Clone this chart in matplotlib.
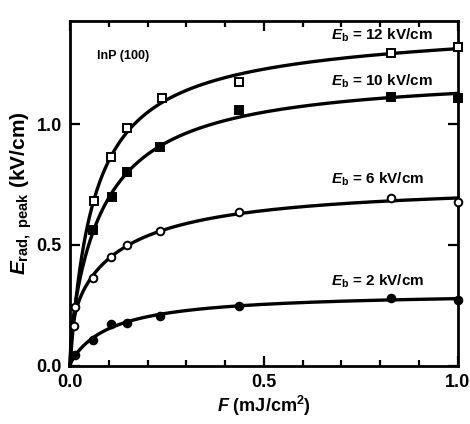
import numpy as np
import matplotlib
matplotlib.use("Agg")
import matplotlib.pyplot as plt
from matplotlib.ticker import MultipleLocator

plt.rcParams['font.family'] = ['Liberation Sans', 'DejaVu Sans']
plt.rcParams['font.weight'] = 'bold'
plt.rcParams['mathtext.fontset'] = 'custom'
plt.rcParams['mathtext.rm'] = 'Liberation Sans:bold'
plt.rcParams['mathtext.it'] = 'Liberation Sans:italic:bold'
plt.rcParams['mathtext.bf'] = 'Liberation Sans:bold'

# Fluence F (mJ/cm^2) and peak radiated field (kV/cm) for each bias field
f_12 = [0.062, 0.106, 0.147, 0.237, 0.436, 0.827, 1.0]
e_12 = [0.68, 0.864, 0.983, 1.107, 1.174, 1.293, 1.318]

f_10 = [0.060, 0.107, 0.147, 0.232, 0.436, 0.827, 1.0]
e_10 = [0.562, 0.70, 0.80, 0.905, 1.058, 1.11, 1.107]

f_6 = [0.010, 0.013, 0.060, 0.106, 0.147, 0.232, 0.436, 0.827, 1.0]
e_6 = [0.165, 0.244, 0.364, 0.45, 0.50, 0.558, 0.636, 0.694, 0.678]

f_2 = [0.013, 0.060, 0.106, 0.147, 0.232, 0.436, 0.827, 1.0]
e_2 = [0.045, 0.107, 0.174, 0.178, 0.207, 0.248, 0.281, 0.273]

series_labels = ["12", "10", "6", "2"]


def saturation_fit(f, e):
    """Least-squares fit of a two-term saturation model A*F/(F+F1) + B*F/(F+F2)."""
    f = np.asarray(f)
    e = np.asarray(e)
    best = None
    for f1 in np.geomspace(0.002, 0.1, 40):
        for f2 in np.geomspace(0.05, 20, 40):
            m = np.column_stack([f / (f + f1), f / (f + f2)])
            coef, *_ = np.linalg.lstsq(m, e, rcond=None)
            if np.any(coef < 0):
                continue
            r = np.sum((m @ coef - e) ** 2)
            if best is None or r < best[0]:
                best = (r, f1, f2, coef)
    _, f1, f2, coef = best
    return lambda x: coef[0] * x / (x + f1) + coef[1] * x / (x + f2)


fig = plt.figure(figsize=(4.70, 4.24), dpi=100)
ax = fig.add_axes([0.149, 0.137, 0.825, 0.813])

xx = np.linspace(0, 1.0, 600)
styles = [
    (f_12, e_12, 's', 'white'),
    (f_10, e_10, 's', 'black'),
    (f_6, e_6, 'o', 'white'),
    (f_2, e_2, 'o', 'black'),
]
for f, e, mk, fc in styles:
    fit = saturation_fit(f, e)
    ax.plot(xx, fit(xx), color='black', lw=2.4, zorder=2, clip_on=False)
    ax.plot(f, e, linestyle='none', marker=mk, ms=5.5, mfc=fc, mec='black',
            mew=1.4, zorder=3, clip_on=False)

label_y = [1.365, 1.175, 0.77, 0.35]
for lab, y in zip(series_labels, label_y):
    ax.text(0.672, y, r"$E_{\rm b}$ = " + lab + " kV/cm", fontsize=11,
            fontweight='bold', ha='left', va='center')

ax.text(0.07, 1.28, "InP (100)", fontsize=9, fontweight='bold',
        ha='left', va='center')

ax.set_xlim(0, 1.0)
ax.set_ylim(0, 1.425)
ax.xaxis.set_major_locator(MultipleLocator(0.5))
ax.xaxis.set_minor_locator(MultipleLocator(0.1))
ax.yaxis.set_major_locator(MultipleLocator(0.5))
ax.tick_params(which='both', direction='in', top=True, right=True,
               width=1.6, labelsize=13)
ax.tick_params(which='major', length=7, pad=6)
ax.tick_params(which='minor', length=4)
ax.set_yticks([0.0, 0.5, 1.0])
ax.set_xticks([0.0, 0.5, 1.0])
ax.set_xticklabels(["0.0", "0.5", "1.0"], fontweight='bold')
ax.set_yticklabels(["0.0", "0.5", "1.0"], fontweight='bold')
for s in ax.spines.values():
    s.set_linewidth(2.0)

ax.set_xlabel(r"$F$ (mJ/cm$^{\rm 2}$)", fontsize=13, fontweight='bold',
              labelpad=2)
ax.set_ylabel(r"$E_{\rm rad,\ peak}$ (kV/cm)", fontsize=15, fontweight='bold',
              labelpad=2)

fig.savefig("out.png", dpi=100)
